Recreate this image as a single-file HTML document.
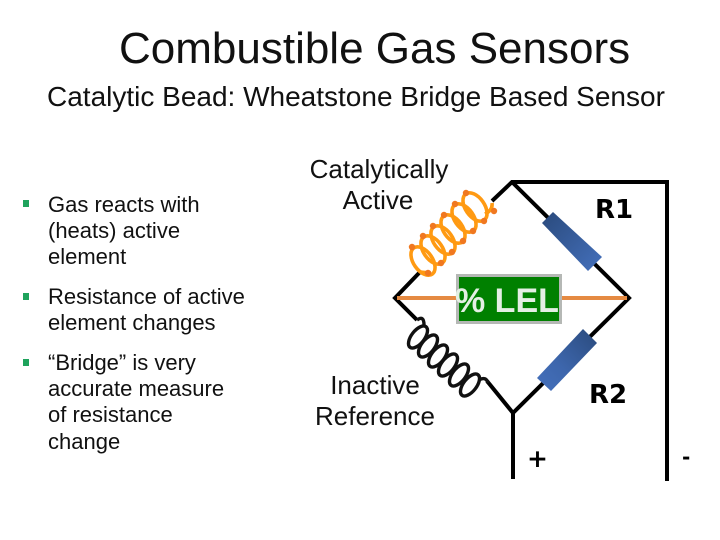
<!DOCTYPE html>
<html><head><meta charset="utf-8">
<style>
html,body{margin:0;padding:0;background:#fff}
#p{position:relative;width:720px;height:540px;overflow:hidden;background:#fff;font-family:"Liberation Sans",sans-serif;color:#000}
svg{position:absolute;left:0;top:0}
.t{position:absolute;white-space:nowrap;line-height:1}
.b{font-size:22px;color:#111}
.c{font-size:26px;text-align:center;transform:translateX(-50%);color:#111}
.s{position:absolute;left:23px;width:6px;height:7px;background:#1FA35C}
.v{font-family:"DejaVu Sans",sans-serif;font-weight:bold}
</style></head><body><div id="p">
<div class="t" style="left:119px;top:27px;font-size:44px;color:#111">Combustible Gas Sensors</div>
<div class="t" style="left:47px;top:83px;font-size:28px;color:#111">Catalytic Bead: Wheatstone Bridge Based Sensor</div>

<div class="s" style="top:200px"></div>
<div class="t b" style="left:48px;top:194px">Gas reacts with</div>
<div class="t b" style="left:48px;top:220px">(heats) active</div>
<div class="t b" style="left:48px;top:246px">element</div>
<div class="s" style="top:293px"></div>
<div class="t b" style="left:48px;top:286px">Resistance of active</div>
<div class="t b" style="left:48px;top:312px">element changes</div>
<div class="s" style="top:359px"></div>
<div class="t b" style="left:48px;top:352px">“Bridge” is very</div>
<div class="t b" style="left:48px;top:378px">accurate measure</div>
<div class="t b" style="left:48px;top:404px">of resistance</div>
<div class="t b" style="left:48px;top:431px">change</div>

<div class="t c" style="left:379px;top:156px">Catalytically</div>
<div class="t c" style="left:378px;top:187px">Active</div>
<div class="t c" style="left:375px;top:372px">Inactive</div>
<div class="t c" style="left:375px;top:403px">Reference</div>

<svg width="720" height="540" viewBox="0 0 720 540">
<defs>
<linearGradient id="g1" x1="0" y1="0" x2="1" y2="1"><stop offset="0" stop-color="#2A4A7C"/><stop offset="1" stop-color="#4470BC"/></linearGradient>
<linearGradient id="g2" x1="1" y1="0" x2="0" y2="1"><stop offset="0" stop-color="#2A4A7C"/><stop offset="0.6" stop-color="#3D66AC"/><stop offset="1" stop-color="#4470BC"/></linearGradient>
</defs>
<g fill="none" stroke="#000" stroke-width="4">
<path d="M492 201 L512 182 L667 182 L667 481" stroke-linejoin="miter"/>
<path d="M512 182 L629 298 L513 413 L513 479"/>
<path d="M420 272 L395 298 L417 320"/>
<path d="M487 381 L513 413"/>
</g>
<path d="M397 298 H456 M562 298 H627" stroke="#E58A42" stroke-width="4" fill="none"/>
<polygon points="553,212 542,223 588,271 602,257" fill="url(#g1)"/>
<polygon points="583,329 597,343 551,391 537,378" fill="url(#g2)"/>

<g fill="none" stroke="#FF9A12" stroke-width="3.6">
<ellipse cx="475" cy="207" rx="16" ry="9.5" transform="rotate(55 475 207)"/>
<ellipse cx="464" cy="218" rx="16" ry="9.5" transform="rotate(55 464 218)"/>
<ellipse cx="453" cy="229" rx="16" ry="9.5" transform="rotate(55 453 229)"/>
<ellipse cx="443" cy="240" rx="16" ry="9.5" transform="rotate(55 443 240)"/>
<ellipse cx="433" cy="250" rx="16" ry="9.5" transform="rotate(55 433 250)"/>
<ellipse cx="423" cy="261" rx="16" ry="9.5" transform="rotate(55 423 261)"/>
<path d="M492 203 Q493 210 485 214 M420 272 L431 273"/>
</g>
<g fill="#F07820">
<circle cx="466" cy="193" r="3.2"/><circle cx="455" cy="204" r="3.2"/><circle cx="444" cy="215" r="3.2"/><circle cx="433" cy="226" r="3.2"/><circle cx="423" cy="236" r="3.2"/><circle cx="412" cy="247" r="3.2"/>
<circle cx="494" cy="211" r="3.2"/><circle cx="484" cy="221" r="3.2"/><circle cx="473" cy="231" r="3.2"/><circle cx="463" cy="241" r="3.2"/><circle cx="452" cy="252" r="3.2"/><circle cx="441" cy="263" r="3.2"/><circle cx="428" cy="273" r="3.2"/>
</g>

<g fill="none" stroke="#111" stroke-width="3.4">
<path d="M417 320 Q424 315 424 325"/>
<ellipse cx="418" cy="337" rx="13" ry="6.5" transform="rotate(-52 418 337)"/>
<ellipse cx="428" cy="346" rx="13" ry="6.5" transform="rotate(-52 428 346)"/>
<ellipse cx="438" cy="356" rx="13" ry="6.5" transform="rotate(-52 438 356)"/>
<ellipse cx="448" cy="365" rx="13" ry="6.5" transform="rotate(-52 448 365)"/>
<ellipse cx="459" cy="375" rx="13" ry="6.5" transform="rotate(-52 459 375)"/>
<ellipse cx="470" cy="385" rx="13" ry="6.5" transform="rotate(-52 470 385)"/>
<path d="M479 380 Q486 376 488 383"/>
</g>
</svg>

<div style="position:absolute;left:456px;top:274px;width:100px;height:44px;border:3px solid #B5B8B5;background:#008000"></div>
<div class="t" style="left:455px;top:284px;font-size:34px;font-weight:bold;color:#E4EFE4;width:106px;overflow:hidden">% LEL</div>

<div class="t v" style="left:595px;top:197px;font-size:26px">R1</div>
<div class="t v" style="left:589px;top:382px;font-size:26px">R2</div>
<div class="t v" style="left:527px;top:446px;font-size:25px">+</div>
<div class="t v" style="left:682px;top:447px;font-size:20px">-</div>
</div></body></html>
